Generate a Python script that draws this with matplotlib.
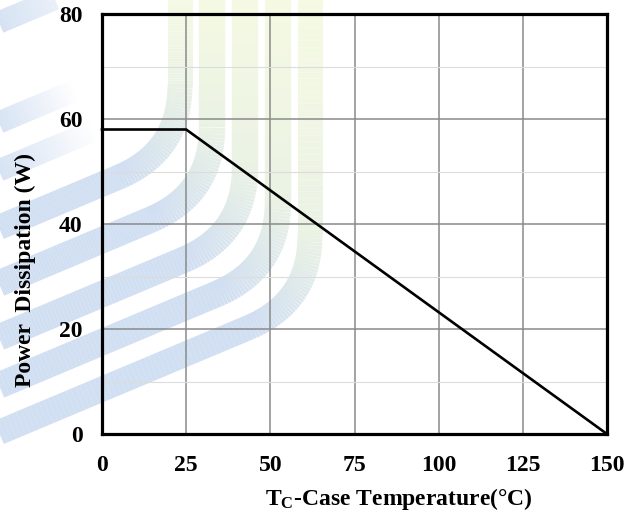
import numpy as np
import matplotlib
matplotlib.use("Agg")
import matplotlib.pyplot as plt
from matplotlib.collections import LineCollection
from matplotlib.colors import to_rgba

# Derating curve: case temperature (°C) vs allowed power dissipation (W)
case_temp = [0, 25, 150]
power_w = [58, 58, 0]

x_ticks = [0, 25, 50, 75, 100, 125, 150]
y_ticks = [0, 20, 40, 60, 80]
y_minor = [10, 30, 50, 70]

W, H = 643, 515
plt.rcParams["font.family"] = ["Liberation Serif", "DejaVu Serif"]
plt.rcParams["font.weight"] = "bold"
plt.rcParams["mathtext.fontset"] = "custom"
plt.rcParams["mathtext.rm"] = "Liberation Serif:bold"
plt.rcParams["mathtext.it"] = "Liberation Serif:bold"
plt.rcParams["mathtext.bf"] = "Liberation Serif:bold"

fig = plt.figure(figsize=(W / 100, H / 100), dpi=100)
fig.patch.set_facecolor("white")

# Background logo: diagonal bands that bend upward into vertical stripes
bg = fig.add_axes([0, 0, 1, 1], zorder=0)
bg.set_xlim(0, W)
bg.set_ylim(H, 0)
bg.axis("off")

blue = np.array(to_rgba("#c6d7ef"))
green = np.array(to_rgba("#e6f0de"))
pale = np.array(to_rgba("#f4f9dc"))
slope = 0.42
d1 = np.array([1.0, -slope]) / np.hypot(1.0, slope)
d2 = np.array([0.0, -1.0])
half_turn = (90 - np.degrees(np.arctan(slope))) / 2


def band_path(y_left, x_vert, radius):
    corner = np.array([x_vert, y_left - slope * x_vert])
    t = radius * np.tan(np.radians(half_turn))
    p0 = corner - t * d1
    p2 = corner + t * d2
    start = np.array([-20.0, y_left + slope * 20])
    diag = np.linspace(start, p0, 60)
    s = np.linspace(0, 1, 40)[:, None]
    arc = (1 - s) ** 2 * p0 + 2 * (1 - s) * s * corner + s ** 2 * p2
    vert = np.linspace(p2, np.array([x_vert, -10.0]), 40)
    pts = np.vstack([diag, arc[1:], vert[1:]])
    return pts, len(diag), len(arc) - 1


for y_left, x_vert, lw in [(227, 180, 18), (283, 212, 19), (337, 245, 19),
                           (385, 278, 19), (432, 310, 18)]:
    pts, n_diag, n_arc = band_path(y_left, x_vert, 100)
    segs = np.stack([pts[:-1], pts[1:]], axis=1)
    n = len(segs)
    cols = np.zeros((n, 4))
    for i in range(n):
        if i < n_diag:
            cols[i] = blue
        elif i < n_diag + n_arc:
            f = (i - n_diag) / n_arc
            cols[i] = blue * (1 - f) + green * f
        else:
            f = (i - n_diag - n_arc) / (n - n_diag - n_arc)
            cols[i] = green * (1 - f) + pale * f
    cols[:, 3] = 0.8
    bg.add_collection(LineCollection(segs, colors=cols, linewidths=lw, capstyle="butt"))

# short bands in the upper-left corner
for y_left, x_end in [(22, 110), (122, 75), (170, 95)]:
    xs = np.linspace(-10, x_end, 50)
    ys = y_left - slope * xs
    pts = np.column_stack([xs, ys])
    segs = np.stack([pts[:-1], pts[1:]], axis=1)
    cols = np.tile(blue, (len(segs), 1))
    cols[:, 3] = np.linspace(0.8, 0.0, len(segs))
    bg.add_collection(LineCollection(segs, colors=cols, linewidths=16, capstyle="butt"))

ax = fig.add_axes([102 / W, 1 - 434 / H, 505 / W, 420 / H], zorder=1)
ax.patch.set_alpha(0)

ax.plot(case_temp, power_w, color="black", lw=1.9, zorder=3, clip_on=False)

ax.set_xlim(0, 150)
ax.set_ylim(0, 80)
ax.set_xticks(x_ticks)
ax.set_yticks(y_ticks)
ax.set_yticks(y_minor, minor=True)
ax.set_xticklabels([str(v) for v in x_ticks])
ax.set_yticklabels([str(v) for v in y_ticks])
ax.tick_params(which="both", length=0)
ax.tick_params(axis="x", pad=15, labelsize=17)
ax.tick_params(axis="y", pad=14, labelsize=17)

ax.grid(which="major", color="#8a8a8a", lw=1.1)
ax.grid(which="minor", axis="y", color="#dcdcdc", lw=0.8)
ax.set_axisbelow(True)
for s in ax.spines.values():
    s.set_linewidth(2.3)
    s.set_color("black")

fig.text(399 / W, 1 - 499 / H, r"T$_{\mathrm{C}}$-Case Temperature(°C)",
         ha="center", va="center", fontsize=17, fontweight="bold")
fig.text(25 / W, 1 - 270 / H, "Power  Dissipation (W)", rotation=90,
         ha="center", va="center", fontsize=17, fontweight="bold")

fig.savefig("out.png", dpi=100)
